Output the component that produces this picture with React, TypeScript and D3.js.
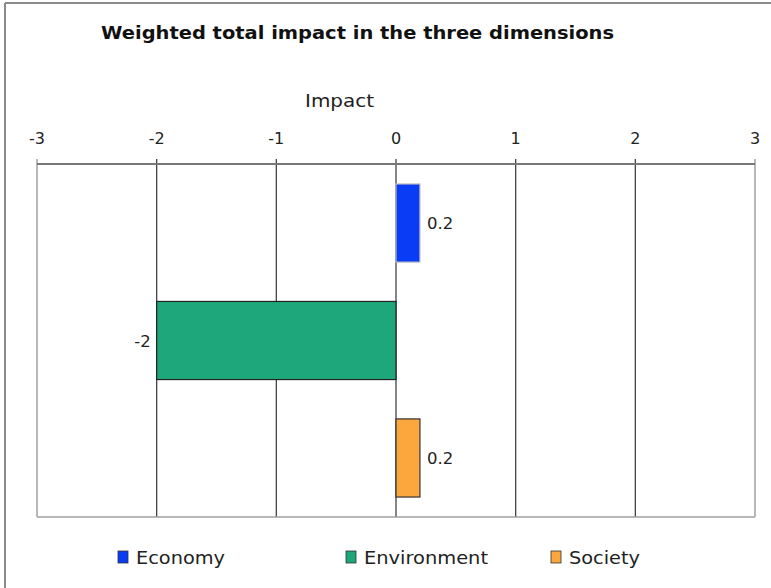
import React from "react";
import * as d3 from "d3";

const categories = ["Economy", "Environment", "Society"];
const values = [0.2, -2, 0.2];
const valueLabels = ["0.2", "-2", "0.2"];
const colors = ["#0a3cf5", "#1ea77b", "#fba73d"];
const barStrokes = ["#bbb", "#222", "#333"];
const tickValues = [-3, -2, -1, 0, 1, 2, 3];
const title = "Weighted total impact in the three dimensions";
const axisTitle = "Impact";

const W = 771;
const H = 588;
const FONT = "'DejaVu Sans', Verdana, sans-serif";

export default function App() {
  const left = 37, right = 755, top = 164, bottom = 517;
  const x = d3.scaleLinear().domain([-3, 3]).range([left, right]);
  const y = d3.scaleBand().domain(categories).range([top, bottom]).paddingInner(0.335).paddingOuter(0.17);
  const legendX = [118, 346, 551];
  const legendW = [89, 124, 71];
  return (
    <svg width={W} height={H} style={{ position: "absolute", left: 0, top: 0, background: "#fff" }} fontFamily={FONT}>
      <rect x={0} y={0} width={W} height={H} fill="#fff" />
      <line x1={5} y1={3} x2={W} y2={3} stroke="#8a8a8a" strokeWidth={2} />
      <line x1={5} y1={3} x2={5} y2={H} stroke="#8a8a8a" strokeWidth={2} />
      <text x={101} y={39} fontSize={17.5} fontWeight="bold" fill="#111" textLength={513} lengthAdjust="spacingAndGlyphs">{title}</text>
      <text x={305} y={107} fontSize={17.5} fill="#222" textLength={69} lengthAdjust="spacingAndGlyphs">{axisTitle}</text>
      {tickValues.map((t) => (
        <g key={t}>
          <text x={x(t)} y={144} fontSize={16} textAnchor="middle" fill="#222">{t}</text>
          <line x1={x(t)} y1={159} x2={x(t)} y2={bottom} stroke={t === -3 || t === 3 ? "#a0a0a0" : "#444"} strokeWidth={t === -3 || t === 3 ? 1.5 : 1.3} />
        </g>
      ))}
      <line x1={left} y1={top} x2={right} y2={top} stroke="#777" strokeWidth={1.8} />
      <line x1={left} y1={bottom} x2={right} y2={bottom} stroke="#a0a0a0" strokeWidth={1.5} />
      {categories.map((c, i) => {
        const v = values[i];
        const x0 = x(Math.min(0, v));
        const x1 = x(Math.max(0, v));
        const yy = y(c)!;
        const bh = y.bandwidth();
        return (
          <g key={c}>
            <rect x={x0} y={yy} width={x1 - x0} height={bh} fill={colors[i]} stroke={barStrokes[i]} strokeWidth={1.2} />
            <text
              x={v >= 0 ? x1 + 7 : x0 - 6}
              y={yy + bh / 2 + 6}
              fontSize={16.5}
              textAnchor={v >= 0 ? "start" : "end"}
              fill="#222"
            >{valueLabels[i]}</text>
          </g>
        );
      })}
      {categories.map((c, i) => (
        <g key={"lg" + c}>
          <rect x={legendX[i]} y={551} width={10} height={12} fill={colors[i]} stroke="#333" strokeWidth={0.8} />
          <text x={legendX[i] + 18} y={564} fontSize={18} fill="#222" textLength={legendW[i]} lengthAdjust="spacingAndGlyphs">{c}</text>
        </g>
      ))}
    </svg>
  );
}
